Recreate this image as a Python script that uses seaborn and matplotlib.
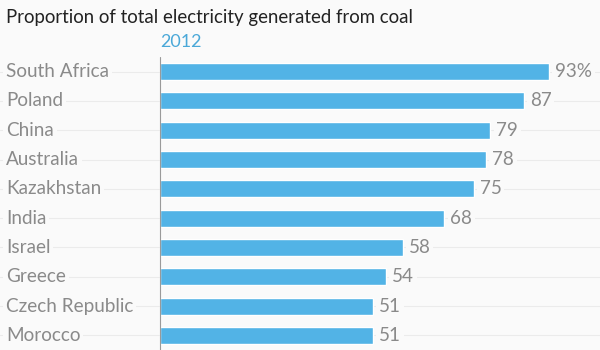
import matplotlib as mpl
mpl.use('agg')
import matplotlib.pyplot as plt
import pandas as pd
import seaborn as sns

# data
countries = ['South Africa', 'Poland', 'China', 'Australia', 'Kazakhstan',
             'India', 'Israel', 'Greece', 'Czech Republic', 'Morocco']
coal_share = [93, 87, 79, 78, 75, 68, 58, 54, 51, 51]
value_labels = ['93%', '87', '79', '78', '75', '68', '58', '54', '51', '51']

df = pd.DataFrame({'country': countries, 'share': coal_share})

sns.set_style('white')
plt.rcParams['font.family'] = ['Lato', 'DejaVu Sans']

bg = '#fafafa'
bar_color = '#52b3e6'
label_gray = '#8a8a8a'

fig = plt.figure(figsize=(6, 3.5), dpi=100)
fig.patch.set_facecolor(bg)
# axes cover full width so row gridlines run across the figure
ax = fig.add_axes([0, 0, 1, 293 / 350])
ax.set_facecolor('none')

px_per_unit = 389 / 93
xmin = -160 / px_per_unit
xmax = 440 / px_per_unit

sns.barplot(data=df, x='share', y='country', color=bar_color, saturation=1,
            width=0.58, orient='h', ax=ax, zorder=2)

ax.set_xlim(xmin, xmax)
ax.set_ylim(len(countries) - 0.5, -0.5)

# row gridlines
for i in range(len(countries)):
    ax.axhline(i, color='#ebebeb', linewidth=0.8, zorder=0)
# baseline
ax.axvline(0, color='#9a9a9a', linewidth=0.8, zorder=3)

# labels
box = dict(facecolor=bg, edgecolor='none', pad=2)
for i, (c, v, lab) in enumerate(zip(countries, coal_share, value_labels)):
    ax.text(xmin + 6 / px_per_unit, i, c, ha='left', va='center',
            fontsize=13.6, color=label_gray, bbox=box, zorder=1)
    ax.text(v + 6 / px_per_unit, i, lab, ha='left', va='center',
            fontsize=13.6, color=label_gray, bbox=box, zorder=1)

ax.set_xticks([])
ax.set_yticks([])
ax.set_xlabel('')
ax.set_ylabel('')
sns.despine(ax=ax, left=True, bottom=True)

fig.text(6 / 600, 1 - 18 / 350, 'Proportion of total electricity generated from coal',
         ha='left', va='center', fontsize=13.4, color='#222222')
fig.text(160 / 600, 1 - 42 / 350, '2012', ha='left', va='center',
         fontsize=13, color='#4aa8d8')

fig.savefig('out.png', dpi=100, facecolor=bg)
